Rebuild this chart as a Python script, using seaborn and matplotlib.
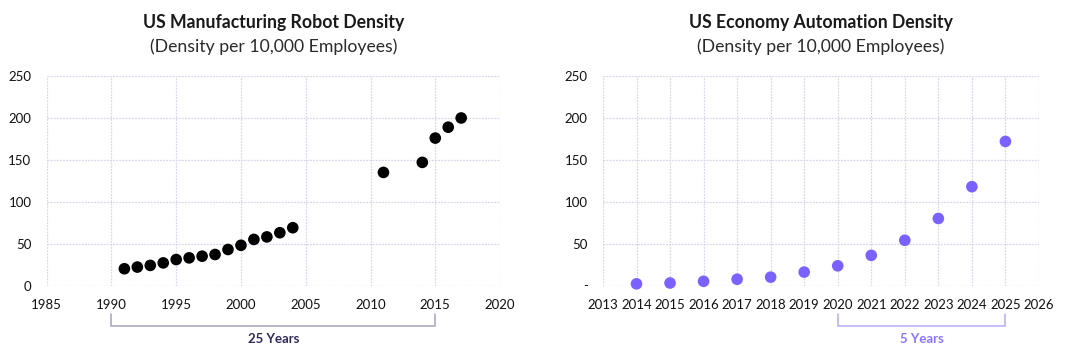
import matplotlib
matplotlib.use("Agg")
import matplotlib.pyplot as plt
import matplotlib.transforms as mtransforms
import pandas as pd
import seaborn as sns

# 왼쪽: 제조업 로봇 밀도
mfg_years = [1991, 1992, 1993, 1994, 1995, 1996, 1997, 1998, 1999, 2000,
             2001, 2002, 2003, 2004, 2011, 2014, 2015, 2016, 2017]
mfg_density = [20, 22, 24, 27, 31, 33, 35, 37, 43, 48,
               55, 58, 63, 69, 135, 147, 176, 189, 200]

# 오른쪽: 경제 전체 자동화 밀도
eco_years = [2014, 2015, 2016, 2017, 2018, 2019, 2020, 2021, 2022, 2023, 2024, 2025]
eco_density = [2, 3, 5, 7.5, 10, 16, 23.5, 36, 54, 80, 118, 172]

left_xticks = [1985, 1990, 1995, 2000, 2005, 2010, 2015, 2020]
right_xticks = list(range(2013, 2027))
yticks = [0, 50, 100, 150, 200, 250]
right_ylabels = ['-', '50', '100', '150', '200', '250']

titles = ['US Manufacturing Robot Density', 'US Economy Automation Density']
subtitle = '(Density per 10,000 Employees)'
spans = [(1990, 2015, '25 Years'), (2020, 2025, '5 Years')]

sns.set_theme(style="white")
plt.rcParams['font.family'] = ['Lato', 'DejaVu Sans']

fig = plt.figure(figsize=(10.8, 3.54), dpi=100)
ax1 = fig.add_axes([0.0432, 0.1935, 0.4198, 0.5915])
ax2 = fig.add_axes([0.5583, 0.1935, 0.4037, 0.5915])

PURPLE = '#7b61ff'
GRID = '#d8d5ec'

df1 = pd.DataFrame({'year': mfg_years, 'density': mfg_density})
df2 = pd.DataFrame({'year': eco_years, 'density': eco_density})

sns.scatterplot(data=df1, x='year', y='density', ax=ax1, color='black',
                s=70, edgecolor='none', zorder=3, clip_on=False)
sns.scatterplot(data=df2, x='year', y='density', ax=ax2, color=PURPLE,
                s=70, edgecolor='none', zorder=3, clip_on=False)

ax1.set_xlim(1985, 2020)
ax1.set_xticks(left_xticks)
ax2.set_xlim(2013, 2026)
ax2.set_xticks(right_xticks)

for ax in (ax1, ax2):
    ax.set_ylim(0, 250)
    ax.set_yticks(yticks)
    ax.set_xlabel('')
    ax.set_ylabel('')
    ax.grid(True, color=GRID, linestyle=(0, (1.5, 1)), linewidth=0.9)
    ax.set_axisbelow(True)
    for sp in ax.spines.values():
        sp.set_visible(False)
    ax.tick_params(axis='both', length=0, labelsize=9.5, labelcolor='#111111')
    ax.tick_params(axis='x', pad=10)
    ax.tick_params(axis='y', pad=11)

ax2.set_yticklabels(right_ylabels)

# 제목
for ax, t in zip((ax1, ax2), titles):
    ax.text(0.5, 1.258, t, transform=ax.transAxes, ha='center', va='center',
            fontsize=12.7, fontweight='bold', color='#1a1a1a')
    ax.text(0.5, 1.138, subtitle, transform=ax.transAxes, ha='center',
            va='center', fontsize=12.7, color='#2a2a2a')

# 기간 괄호
bracket_colors = [('#a4a2b8', '#2f2b5a'), ('#b7a9f7', '#8c75ff')]
for ax, (x0, x1, lab), (lc, tc) in zip((ax1, ax2), spans, bracket_colors):
    tr = mtransforms.blended_transform_factory(ax.transData, ax.transAxes)
    ax.plot([x0, x0, x1, x1], [-0.135, -0.195, -0.195, -0.135], transform=tr,
            color=lc, linewidth=1.1, clip_on=False)
    ax.text((x0 + x1) / 2, -0.255, lab, transform=tr, ha='center', va='center',
            fontsize=9.5, fontweight='bold', color=tc)

fig.savefig('out.png', dpi=100, facecolor='white')
